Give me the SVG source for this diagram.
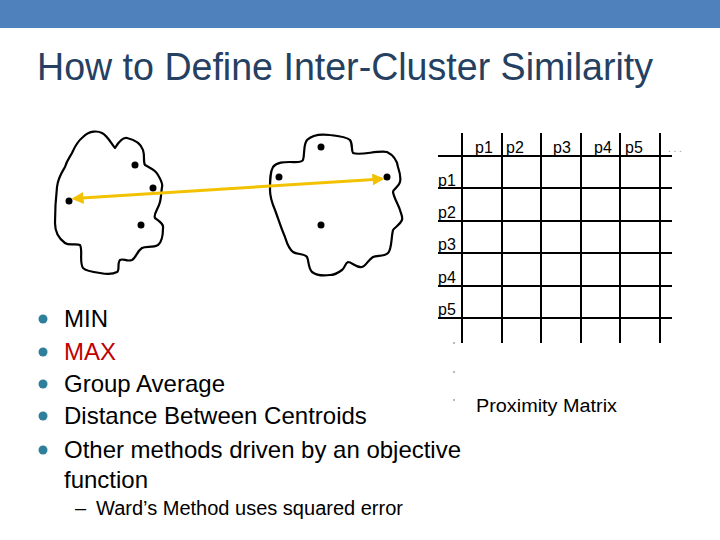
<svg xmlns="http://www.w3.org/2000/svg" width="720" height="540" viewBox="0 0 720 540">
<style>
.cloud{fill:none;stroke:#000;stroke-width:2.2;stroke-linejoin:round}
.pt{fill:#000}
.grid line{stroke:#000;stroke-width:2}
.ml{font-family:"Liberation Sans",Arial,sans-serif;font-size:16px;fill:#000}
.bt{font-family:"Liberation Sans",Arial,sans-serif;font-size:24px;fill:#000}
.bul{fill:#2F7F9C}
.dot{fill:#999}
</style>
<defs>
<marker id="ah" viewBox="0 0 10 10" refX="8" refY="5" markerWidth="4" markerHeight="4" orient="auto-start-reverse">
<path d="M0,0 L10,5 L0,10 z" fill="#F2C200"/>
</marker>
</defs>
<rect x="0" y="0" width="720" height="28" fill="#4F81BD"/>
<text x="37" y="80" font-family="'Liberation Sans',Arial,sans-serif" font-size="38" fill="#254061" textLength="616" lengthAdjust="spacingAndGlyphs">How to Define Inter-Cluster Similarity</text>

<g id="cluster1">
<path class="cloud" d="M83,137 C90,130 98,131 102,133 C108,136 112,145 115,148 C118,143 122,137 127,138 C136,140 141,144 143,150 C145,156 143,162 145,165 C150,168 156,170 158,175 C161,180 163,184 162,187 C161,194 161,198 160,202 C158,210 153,214 155,218 C159,221 164,224 163,228 C163,236 162,242 158,245 C153,248 146,246 142,248 C137,251 136,258 132,260 C127,262 123,258 120,260 C117,263 120,270 117,272 C112,275 105,274 100,273 C92,272 86,271 83,268 C79,262 83,250 80,245 C76,243 69,246 65,243 C58,238 55,230 55,223 C55,210 56,196 57,187 C58,178 62,172 65,167 C67,160 70,157 72,153 C75,146 78,141 83,137 Z"/>
<circle class="pt" cx="135" cy="165" r="3.5"/>
<circle class="pt" cx="153" cy="188" r="3.5"/>
<circle class="pt" cx="69" cy="201" r="3.5"/>
<circle class="pt" cx="141" cy="225" r="3.5"/>
</g>

<g id="cluster2">
<path class="cloud" d="M307,140 C312,135 322,134 330,135 C340,136 347,137 350,140 C353,144 351,150 353,153 C360,156 378,150 387,152 C393,155 397,160 398,167 C400,173 401,178 400,182 C399,187 393,189 393,192 C394,198 398,204 400,210 C401,214 403,217 402,220 C400,225 395,227 393,230 C391,238 392,249 388,253 C384,257 377,255 373,257 C368,260 366,266 362,267 C356,268 352,262 348,262 C345,263 345,268 342,270 C338,273 334,275 330,275 C323,276 316,275 312,272 C308,268 309,261 307,257 C304,253 297,255 293,252 C288,248 287,243 285,237 C281,228 278,218 275,210 C272,203 270,196 270,190 C270,180 270,172 273,167 C277,162 284,162 290,162 C296,162 301,163 303,160 C305,154 303,145 307,140 Z"/>
<circle class="pt" cx="321" cy="147" r="3.5"/>
<circle class="pt" cx="279" cy="177" r="3.5"/>
<circle class="pt" cx="387" cy="177" r="3.5"/>
<circle class="pt" cx="321" cy="225" r="3.5"/>
</g>

<g id="connectors">
<line x1="74" y1="198.5" x2="382" y2="179" stroke="#F2C200" stroke-width="3" marker-start="url(#ah)" marker-end="url(#ah)"/>
</g>

<g id="matrix">
<g class="grid">
<line x1="462" y1="133" x2="462" y2="343"/>
<line x1="502" y1="133" x2="502" y2="343"/>
<line x1="541" y1="133" x2="541" y2="343"/>
<line x1="581" y1="133" x2="581" y2="343"/>
<line x1="620" y1="133" x2="620" y2="343"/>
<line x1="660" y1="133" x2="660" y2="343"/>
<line x1="438" y1="156" x2="672" y2="156"/>
<line x1="438" y1="188" x2="672" y2="188"/>
<line x1="438" y1="221" x2="672" y2="221"/>
<line x1="438" y1="253" x2="672" y2="253"/>
<line x1="438" y1="286" x2="672" y2="286"/>
<line x1="438" y1="318" x2="672" y2="318"/>
</g>
<text class="ml" x="475" y="153">p1</text>
<text class="ml" x="506" y="153">p2</text>
<text class="ml" x="553" y="153">p3</text>
<text class="ml" x="594" y="153">p4</text>
<text class="ml" x="625" y="153">p5</text>
<text x="668" y="152" font-family="'Liberation Sans',Arial,sans-serif" font-size="10" fill="#999">. . .</text>
<text class="ml" x="438" y="186">p1</text>
<text class="ml" x="438" y="218">p2</text>
<text class="ml" x="438" y="250">p3</text>
<text class="ml" x="438" y="283">p4</text>
<text class="ml" x="438" y="315">p5</text>
<circle class="dot" cx="454" cy="343" r="0.9"/>
<circle class="dot" cx="454" cy="372" r="0.9"/>
<circle class="dot" cx="454" cy="400" r="0.9"/>
<text x="476" y="412" font-family="'Liberation Sans',Arial,sans-serif" font-size="18" fill="#000" textLength="141" lengthAdjust="spacingAndGlyphs">Proximity Matrix</text>
</g>

<g id="bullets">
<circle class="bul" cx="43" cy="319" r="4.5"/>
<circle class="bul" cx="43" cy="352" r="4.5"/>
<circle class="bul" cx="43" cy="384" r="4.5"/>
<circle class="bul" cx="43" cy="416" r="4.5"/>
<circle class="bul" cx="43" cy="450" r="4.5"/>
<text class="bt" x="64" y="327">MIN</text>
<text class="bt" x="64" y="360" style="fill:#C00000">MAX</text>
<text class="bt" x="64" y="392">Group Average</text>
<text class="bt" x="64" y="424">Distance Between Centroids</text>
<text class="bt" x="64" y="458" textLength="397" lengthAdjust="spacing">Other methods driven by an objective</text>
<text class="bt" x="64" y="488">function</text>
<text x="75" y="515" font-family="'Liberation Sans',Arial,sans-serif" font-size="20" fill="#000">–</text>
<text x="96" y="515" font-family="'Liberation Sans',Arial,sans-serif" font-size="20" fill="#000" textLength="307" lengthAdjust="spacingAndGlyphs">Ward’s Method uses squared error</text>
</g>
</svg>
